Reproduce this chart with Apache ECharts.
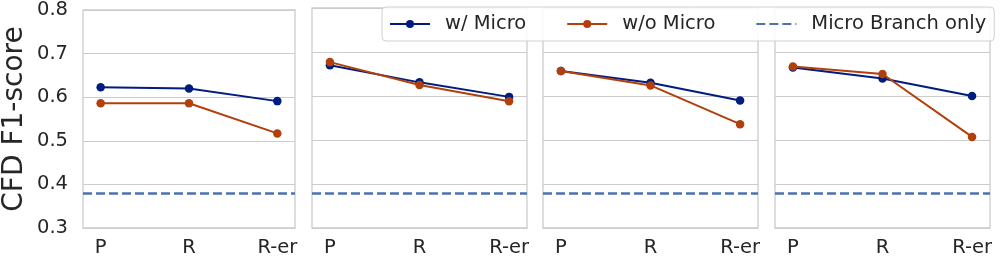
<!DOCTYPE html>
<html>
<head>
<meta charset="utf-8">
<script src="https://cdn.jsdelivr.net/npm/echarts@6/dist/echarts.min.js"></script>
<style>html,body{margin:0;padding:0;background:#fff}#c{width:1000px;height:258px}</style>
</head>
<body>
<div id="c"></div>
<script>
const categories = ['P', 'R', 'R-er'];
const withMicro = [
  [0.623, 0.620, 0.591],
  [0.670, 0.631, 0.598],
  [0.657, 0.630, 0.590],
  [0.665, 0.640, 0.600]
];
const withoutMicro = [
  [0.586, 0.586, 0.517],
  [0.677, 0.625, 0.588],
  [0.657, 0.624, 0.536],
  [0.667, 0.650, 0.507]
];
const microBranchOnly = [0.377, 0.377, 0.377, 0.377];
const seriesNames = ['w/ Micro', 'w/o Micro', 'Micro Branch only'];
const yMin = 0.3, yMax = 0.8, yStep = 0.1;
const yTitle = 'CFD F1-score';

const FONT = 'DejaVu Sans';
const TXT = '#262626';
const BLUE = '#001c7f', ORANGE = '#b1400d', DASH = '#4c72b0';
const lefts = [80, 312, 543, 775];
const W = 215, TOP = 8, H = 220;

const grids = [], xAxes = [], yAxes = [], series = [];
lefts.forEach((l, i) => {
  grids.push({left: l, top: TOP, width: W, height: H, show: true, borderColor: '#cccccc', borderWidth: 1.3, backgroundColor: '#fff'});
  xAxes.push({
    type: 'value', gridIndex: i, min: -0.2, max: 2.2,
    axisLine: {show: false}, axisTick: {show: false}, splitLine: {show: false},
    axisLabel: {customValues: [0, 1, 2], formatter: v => categories[Math.round(v)], color: TXT, fontFamily: FONT, fontSize: 19.5, margin: 10}
  });
  yAxes.push({
    type: 'value', gridIndex: i, min: yMin, max: yMax, interval: yStep,
    axisLine: {show: false}, axisTick: {show: false},
    splitLine: {show: true, lineStyle: {color: '#cccccc', width: 1.2}},
    axisLabel: {show: i === 0, color: TXT, fontFamily: FONT, fontSize: 19.5, margin: 15, formatter: v => v.toFixed(1)},
    name: i === 0 ? yTitle : '', nameLocation: 'middle', nameGap: 54,
    nameTextStyle: {color: TXT, fontFamily: FONT, fontSize: 28}
  });
  series.push({
    name: seriesNames[2], type: 'line', xAxisIndex: i, yAxisIndex: i, data: [],
    symbol: 'none', lineStyle: {color: DASH, width: 2.5, type: [9, 4]}, itemStyle: {color: DASH, opacity: 0},
    markLine: {silent: true, symbol: 'none', label: {show: false},
      lineStyle: {color: DASH, width: 2.5, type: [9, 4], opacity: 1},
      data: [{yAxis: microBranchOnly[i]}]},
    z: 1
  });
  series.push({
    name: seriesNames[0], type: 'line', xAxisIndex: i, yAxisIndex: i,
    data: withMicro[i].map((v, k) => [k, v]),
    symbol: 'circle', symbolSize: 8.5, lineStyle: {color: BLUE, width: 2}, itemStyle: {color: BLUE}, z: 3
  });
  series.push({
    name: seriesNames[1], type: 'line', xAxisIndex: i, yAxisIndex: i,
    data: withoutMicro[i].map((v, k) => [k, v]),
    symbol: 'circle', symbolSize: 8.5, lineStyle: {color: ORANGE, width: 2}, itemStyle: {color: ORANGE}, z: 4
  });
});

const chart = echarts.init(document.getElementById('c'), null, {renderer: 'canvas'});
chart.setOption({
  animation: false,
  backgroundColor: '#fff',
  grid: grids, xAxis: xAxes, yAxis: yAxes, series: series,
  legend: {
    data: seriesNames, left: 382, top: 7, orient: 'horizontal',
    backgroundColor: 'rgba(255,255,255,0.9)', borderColor: '#d0d0d0', borderWidth: 1, borderRadius: 4,
    padding: [7, 8, 7, 7], itemWidth: 40, itemHeight: 10, itemGap: 40,
    textStyle: {color: TXT, fontFamily: FONT, fontSize: 19.5, padding: [0, 0, 0, 10]},
    z: 10
  }
});
</script>
</body>
</html>
